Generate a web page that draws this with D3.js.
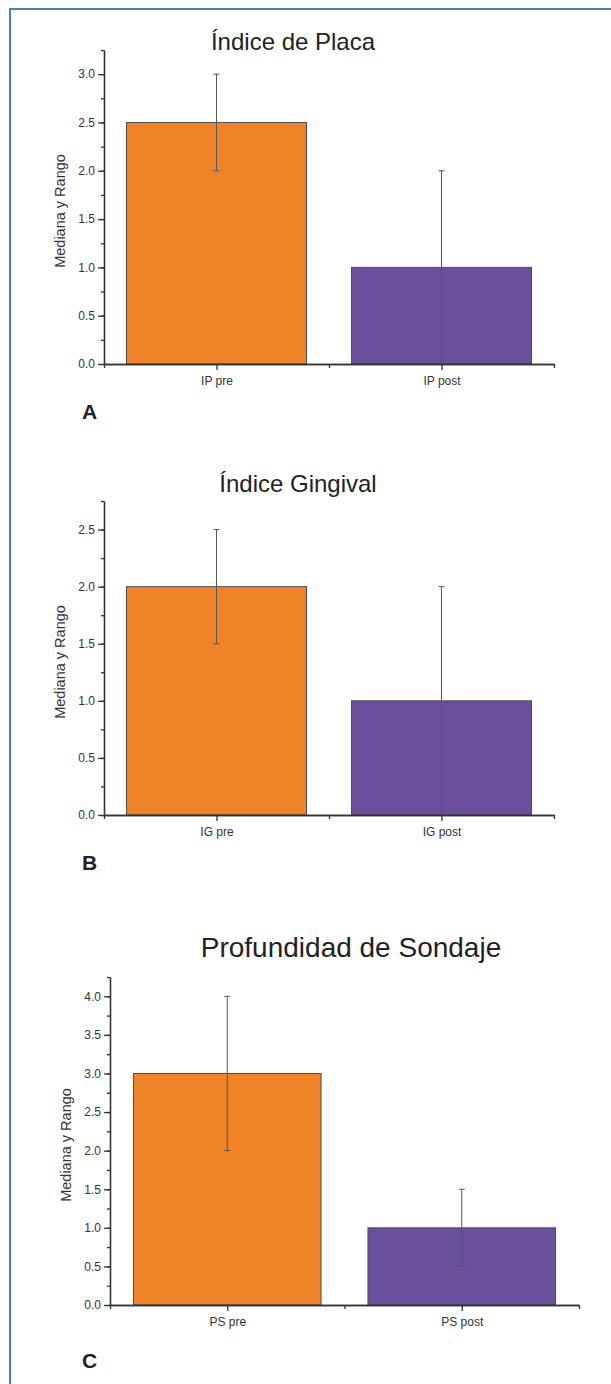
<!DOCTYPE html>
<html>
<head>
<meta charset="utf-8">
<script src="https://cdn.jsdelivr.net/npm/d3@7"></script>
<style>
  body { margin: 0; background: #fff; }
  svg { display: block; font-family: "Liberation Sans", Arial, sans-serif; }
</style>
</head>
<body>
<div id="container"></div>
<script>
// chart values
var titles = ["Índice de Placa", "Índice Gingival", "Profundidad de Sondaje"];
var letters = ["A", "B", "C"];
var categories = [["IP pre", "IP post"], ["IG pre", "IG post"], ["PS pre", "PS post"]];
var medians = [[2.5, 1.0], [2.0, 1.0], [3.0, 1.0]];
var rangeLow = [[2.0, 0.0], [1.5, 0.0], [2.0, 0.5]];
var rangeHigh = [[3.0, 2.0], [2.5, 2.0], [4.0, 1.5]];
var yMax = [3.25, 2.75, 4.25];
var yMajor = [
    [0, 0.5, 1.0, 1.5, 2.0, 2.5, 3.0],
    [0, 0.5, 1.0, 1.5, 2.0, 2.5],
    [0, 0.5, 1.0, 1.5, 2.0, 2.5, 3.0, 3.5, 4.0]
];
var yLabel = "Mediana y Rango";
var barColors = ["#ee8427", "#6a4f9c"];

// where each panel sits on the page
var layout = [
    {left: 104, right: 554, top: 50,  bottom: 364,  titleX: 293, titleY: 50,  titleSize: 24, labelX: 60, letterY: 419},
    {left: 104, right: 554, top: 501, bottom: 815,  titleX: 298, titleY: 492, titleSize: 24, labelX: 60, letterY: 870},
    {left: 110, right: 579, top: 977, bottom: 1305, titleX: 351, titleY: 957, titleSize: 28, labelX: 66, letterY: 1368}
];

var svg = d3.select("#container")
    .append("svg")
        .attr("width", 611)
        .attr("height", 1384);

// blue frame (left and top edges visible)
svg.append("path")
    .attr("d", "M10,1384 L10,9 L611,9")
    .attr("fill", "none")
    .attr("stroke", "#4a7ebb")
    .attr("stroke-width", 2);

layout.forEach(function(L, p) {
    var g = svg.append("g");

    var y = d3.scaleLinear()
        .domain([0, yMax[p]])
        .range([L.bottom, L.top]);
    var x = d3.scaleLinear()
        .domain([0.5, 2.5])
        .range([L.left, L.right]);
    var step = x(2) - x(1);

    // bars
    g.selectAll(".bar")
    .data(medians[p])
    .enter()
    .append("rect")
        .attr("x", function(d, i){ return x(i + 1) - step * 0.4; })
        .attr("y", function(d){ return y(d); })
        .attr("width", step * 0.8)
        .attr("height", function(d){ return y(0) - y(d); })
        .attr("fill", function(d, i){ return barColors[i]; })
        .attr("stroke", "#4d4d4d")
        .attr("stroke-width", 1);

    // range whiskers
    var idx = [0, 1];
    g.selectAll(".err")
    .data(idx)
    .enter()
    .append("line")
        .attr("x1", function(i){ return x(i + 1); })
        .attr("x2", function(i){ return x(i + 1); })
        .attr("y1", function(i){ return y(rangeLow[p][i]); })
        .attr("y2", function(i){ return y(rangeHigh[p][i]); })
        .attr("stroke", "#555")
        .attr("stroke-width", 1);
    g.selectAll(".capTop")
    .data(idx)
    .enter()
    .append("line")
        .attr("x1", function(i){ return x(i + 1) - 3; })
        .attr("x2", function(i){ return x(i + 1) + 3; })
        .attr("y1", function(i){ return y(rangeHigh[p][i]); })
        .attr("y2", function(i){ return y(rangeHigh[p][i]); })
        .attr("stroke", "#555");
    g.selectAll(".capLow")
    .data(idx.filter(function(i){ return rangeLow[p][i] > 0; }))
    .enter()
    .append("line")
        .attr("x1", function(i){ return x(i + 1) - 3; })
        .attr("x2", function(i){ return x(i + 1) + 3; })
        .attr("y1", function(i){ return y(rangeLow[p][i]); })
        .attr("y2", function(i){ return y(rangeLow[p][i]); })
        .attr("stroke", "#555");

    // y axis: minor ticks every 0.25, labelled majors every 0.5
    var yMinor = d3.range(0, yMax[p] + 0.001, 0.25);
    g.append("g")
        .attr("transform", "translate(" + L.left + ",0)")
        .call(d3.axisLeft(y).tickValues(yMinor).tickSize(3).tickSizeOuter(0).tickFormat(""));
    g.append("g")
        .attr("transform", "translate(" + L.left + ",0)")
        .call(d3.axisLeft(y).tickValues(yMajor[p]).tickSize(6).tickSizeOuter(0).tickPadding(3)
            .tickFormat(d3.format(".1f")));

    // x axis
    g.append("g")
        .attr("transform", "translate(0," + L.bottom + ")")
        .call(d3.axisBottom(x).tickValues([0.5, 1.5, 2.5]).tickSize(4).tickSizeOuter(0).tickFormat(""));
    g.append("g")
        .attr("transform", "translate(0," + L.bottom + ")")
        .call(d3.axisBottom(x).tickValues([1, 2]).tickSize(6).tickSizeOuter(0).tickPadding(6)
            .tickFormat(function(d){ return categories[p][d - 1]; }));

    g.selectAll(".domain, .tick line")
        .attr("stroke", "#333")
        .attr("stroke-width", 1.3);
    g.selectAll(".tick text")
        .attr("font-size", "12px")
        .attr("fill", "#333")
        .attr("font-family", "Liberation Sans, Arial, sans-serif");

    // axis title
    g.append("text")
        .attr("transform", "translate(" + L.labelX + "," + ((L.top + L.bottom) / 2 + 4) + ") rotate(-90)")
        .attr("text-anchor", "middle")
        .attr("dy", "0.35em")
        .attr("font-size", "14.5px")
        .attr("fill", "#333")
        .text(yLabel);

    // chart title
    g.append("text")
        .attr("x", L.titleX)
        .attr("y", L.titleY)
        .attr("text-anchor", "middle")
        .attr("font-size", L.titleSize + "px")
        .attr("fill", "#222")
        .text(titles[p]);

    // panel letter
    g.append("text")
        .attr("x", 82)
        .attr("y", L.letterY)
        .attr("font-size", "21px")
        .attr("font-weight", "bold")
        .attr("fill", "#222")
        .text(letters[p]);
});
</script>
</body>
</html>
